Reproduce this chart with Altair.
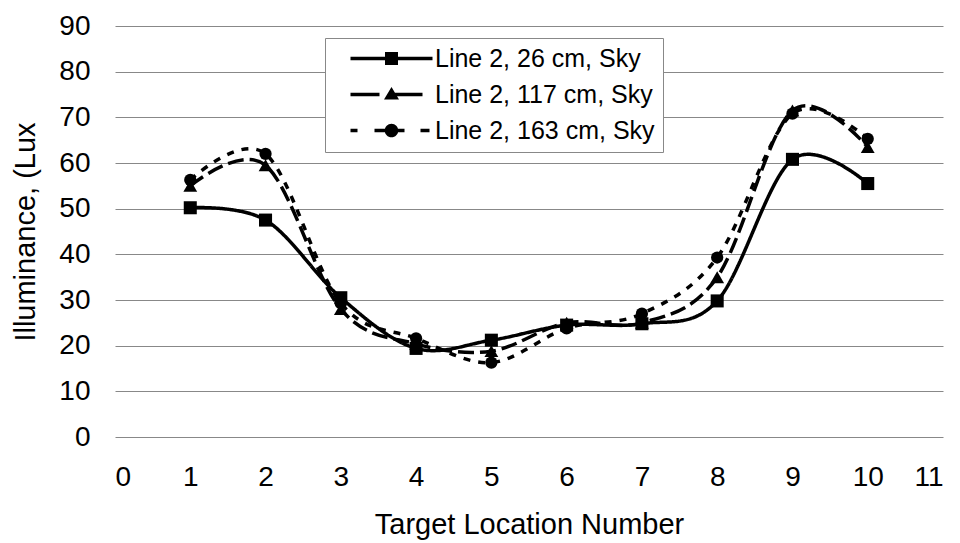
import altair as alt
import pandas as pd

locations = [1, 2, 3, 4, 5, 6, 7, 8, 9, 10]
series_names = ["Line 2, 26 cm, Sky", "Line 2, 117 cm, Sky", "Line 2, 163 cm, Sky"]
lux_26 = [50.2, 47.5, 30.5, 19.4, 21.2, 24.5, 24.8, 29.8, 60.8, 55.5]
lux_117 = [55.0, 59.5, 28.0, 20.4, 18.8, 25.0, 25.0, 35.0, 71.5, 63.5]
lux_163 = [56.3, 62.0, 29.3, 21.6, 16.3, 23.8, 27.0, 39.3, 70.8, 65.3]
y_ticks = [0, 10, 20, 30, 40, 50, 60, 70, 80, 90]
x_ticks = [0, 1, 2, 3, 4, 5, 6, 7, 8, 9, 10, 11]

rows = []
for name, vals in zip(series_names, [lux_26, lux_117, lux_163]):
    for x, v in zip(locations, vals):
        rows.append({"loc": x, "lux": v, "series": name})
df = pd.DataFrame(rows)

FONT = "Liberation Sans"

dash_scale = alt.Scale(domain=series_names, range=[[1, 0], [16, 6], [7, 8]])

# ---- legend key glyphs (line segment(s) + marker), drawn as filled paths ----
SYM = 25.0           # legend symbol size (px side) -> path unit = SYM/2 px
U = SYM / 2.0
HT = 1.75            # half line thickness in px


def f(v):
    return f"{v / U:.4f}"


def seg(x0, x1):
    return f"M{f(x0)},{f(-HT)}H{f(x1)}V{f(HT)}H{f(x0)}Z"


def square(s):
    return f"M{f(-s)},{f(-s)}H{f(s)}V{f(s)}H{f(-s)}Z"


def triangle(w, top, bot):
    return f"M0,{f(-top)}L{f(w)},{f(bot)}L{f(-w)},{f(bot)}Z"


def circle(r):
    return (f"M{f(r)},0A{f(r)},{f(r)} 0 1,1 {f(-r)},0"
            f"A{f(r)},{f(r)} 0 1,1 {f(r)},0Z")


p_sq = seg(-41, 41) + square(6.5)
p_tri = seg(-41, -12) + seg(0, 31) + triangle(7.5, 7.5, 5)
p_cir = seg(-41, -34) + seg(-17, -6) + seg(6, 13) + seg(29, 38) + circle(6.8)
legend_shape_scale = alt.Scale(domain=series_names, range=[p_sq, p_tri, p_cir])

legend = alt.Legend(
    title=None,
    orient="none",
    legendX=210,
    legendY=12,
    fillColor="white",
    strokeColor="#888888",
    padding=8,
    symbolSize=SYM * SYM,
    symbolOffset=46,
    symbolStrokeWidth=0,
    symbolFillColor="black",
    symbolOpacity=1,
    labelFont=FONT,
    labelFontSize=25,
    labelColor="black",
    labelOffset=31,
    labelLimit=500,
    labelExpr="datum.label + '\u00a0\u00a0\u00a0\u00a0'",
    rowPadding=10,
)

base = alt.Chart(df)
x_enc = alt.X("loc:Q", scale=alt.Scale(domain=[0, 11], nice=False),
              axis=alt.Axis(values=x_ticks, format="d", labelOverlap=False,
                            title="Target Location Number", grid=False,
                            domain=False, ticks=False, labelPadding=26, titlePadding=19))
y_enc = alt.Y("lux:Q", scale=alt.Scale(domain=[0, 90], nice=False),
              axis=alt.Axis(values=y_ticks, format="d", title="Illuminance, (Lux", grid=True,
                            domain=False, ticks=False, labelPadding=25, titlePadding=18))

lines = base.mark_line(interpolate="cardinal", strokeWidth=3.5, color="black").encode(
    x=x_enc, y=y_enc,
    strokeDash=alt.StrokeDash("series:N", scale=dash_scale, legend=legend),
)

marker_shapes = ["square", "triangle-up", "circle"]
marker_sizes = [170, 190, 150]
point_layers = []
for name, shp, sz in zip(series_names, marker_shapes, marker_sizes):
    point_layers.append(
        base.transform_filter(alt.datum.series == name)
        .mark_point(filled=True, color="black", opacity=1, size=sz, shape=shp)
        .encode(x="loc:Q", y="lux:Q")
    )

legend_carrier = base.transform_filter("false").mark_point(
    filled=True, color="black", opacity=1
).encode(
    x="loc:Q", y="lux:Q",
    shape=alt.Shape("series:N", scale=legend_shape_scale, legend=legend),
)

chart = alt.layer(lines, *point_layers, legend_carrier).properties(
    width=828, height=411,
    autosize=alt.AutoSizeParams(type="none"),
    padding={"left": 107, "top": 18, "right": 9, "bottom": 110},
    background="white",
).configure_axis(
    labelFont=FONT, labelFontSize=28, labelColor="black",
    titleFont=FONT, titleFontSize=29, titleColor="black", titleFontWeight="normal",
    gridColor="#888888", gridWidth=1, gridOpacity=1,
).configure_view(stroke=None)

chart.save("out.html", embed_options={"renderer": "svg", "actions": False})
